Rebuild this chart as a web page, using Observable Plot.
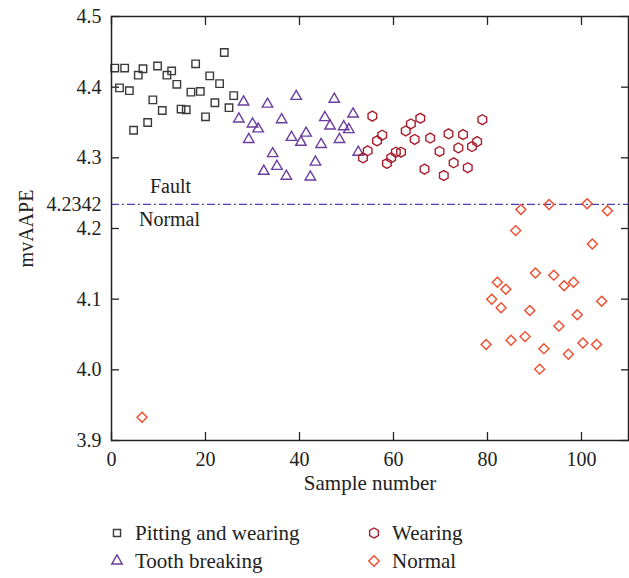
<!DOCTYPE html>
<html><head><meta charset="utf-8">
<script src="https://cdn.jsdelivr.net/npm/d3@7"></script>
<script src="https://cdn.jsdelivr.net/npm/@observablehq/plot@0.6"></script>
<style>
body{margin:0;background:#fff;font-family:"Liberation Serif",serif;}
#wrap{position:relative;width:629px;height:578px;overflow:hidden;}
.item{position:absolute;display:flex;align-items:center;font-size:21px;color:#222;white-space:nowrap;}
.item svg{display:block;}
</style></head><body><div id="wrap"></div>
<script>
// ---- data ----
const xTicks = [0, 20, 40, 60, 80, 100];
const yTicks = [3.9, 4.0, 4.1, 4.2, 4.3, 4.4, 4.5];
const threshold = 4.2342;

const pittingX = [0.7,1.7,2.8,3.8,4.7,5.7,6.7,7.7,8.8,9.8,10.8,11.8,12.8,13.9,14.8,15.9,16.9,17.9,18.9,20.0,20.9,22.0,23.0,24.0,25.0,26.0];
const pittingY = [4.427,4.399,4.427,4.395,4.339,4.417,4.426,4.350,4.382,4.430,4.367,4.417,4.423,4.404,4.369,4.368,4.393,4.433,4.394,4.358,4.416,4.378,4.405,4.449,4.371,4.388];

const breakX = [27.1,28.1,29.2,30.0,31.2,32.4,33.2,34.3,35.2,36.2,37.2,38.3,39.3,40.3,41.4,42.3,43.4,44.6,45.4,46.5,47.4,48.5,49.4,50.5,51.4,52.5];
const breakY = [4.355,4.379,4.326,4.348,4.341,4.281,4.376,4.306,4.288,4.354,4.274,4.329,4.387,4.322,4.335,4.273,4.294,4.319,4.357,4.345,4.383,4.326,4.344,4.340,4.362,4.308];

const wearX = [53.5,54.5,55.5,56.5,57.6,58.6,59.5,60.5,61.6,62.6,63.7,64.5,65.7,66.6,67.8,69.8,70.7,71.7,72.8,73.8,74.8,75.8,76.7,77.8,78.9];
const wearY = [4.300,4.310,4.359,4.324,4.332,4.292,4.300,4.308,4.308,4.338,4.348,4.326,4.356,4.284,4.328,4.309,4.275,4.334,4.293,4.314,4.333,4.286,4.316,4.323,4.354];

const normalX = [6.5,79.7,80.9,82.1,82.9,83.9,85.0,86.0,87.1,88.0,89.0,90.2,91.1,92.0,93.1,94.1,95.2,96.3,97.2,98.3,99.1,100.3,101.2,102.3,103.2,104.3,105.5];
const normalY = [3.933,4.036,4.100,4.124,4.088,4.114,4.042,4.197,4.227,4.047,4.084,4.137,4.001,4.030,4.234,4.134,4.062,4.119,4.022,4.124,4.078,4.038,4.235,4.178,4.036,4.097,4.225];

const seriesNames = ["Pitting and wearing", "Tooth breaking", "Wearing", "Normal"];
const seriesSymbols = ["square", "triangle", "hexagon", "diamond2"];
const seriesColors = ["#3a3a3a", "#6a3d9e", "#a81e2c", "#f04a2a"];
const regionLabels = ["Fault", "Normal"];

// ---- build ----
const toRows = (xs, ys) => xs.map((x, i) => ({x, y: ys[i]}));
const series = [
  toRows(pittingX, pittingY),
  toRows(breakX, breakY),
  toRows(wearX, wearY),
  toRows(normalX, normalY)
];
const radii = [4.2, 3.9, 4.3, 4.5];

const chart = Plot.plot({
  width: 629, height: 505,
  marginLeft: 111, marginRight: 1, marginTop: 16, marginBottom: 65,
  x: {domain: [0, 110]},
  y: {domain: [3.9, 4.5]},
  style: {fontFamily: "Liberation Serif, serif", fontSize: "20px", color: "#222", background: "white", overflow: "visible"},
  marks: [
    Plot.axisX({anchor: "bottom", ticks: xTicks, tickSize: -8, tickPadding: 19, label: null, fontSize: 20, strokeWidth: 1.3}),
    Plot.axisX({anchor: "top", ticks: xTicks, tickSize: -8, tickFormat: () => "", label: null, strokeWidth: 1.3}),
    Plot.axisY({anchor: "left", ticks: yTicks, tickSize: -8, tickPadding: 18, tickFormat: d3.format(".1f"), label: null, fontSize: 20, strokeWidth: 1.3}),
    Plot.axisY({anchor: "right", ticks: yTicks, tickSize: -8, tickFormat: () => "", label: null, strokeWidth: 1.3}),
    Plot.ruleY([threshold], {stroke: "#4a40b4", strokeDasharray: "8,3,2,3", strokeWidth: 1.2}),
    Plot.text([d3.format(".4f")(threshold)], {text: d => d, y: () => threshold, frameAnchor: "left", textAnchor: "end", dx: -10, fontSize: 20}),
    Plot.text([regionLabels[0]], {text: d => d, y: () => threshold, frameAnchor: "left", textAnchor: "middle", dx: 59, dy: -18, fontSize: 20}),
    Plot.text([regionLabels[1]], {text: d => d, y: () => threshold, frameAnchor: "left", textAnchor: "middle", dx: 58, dy: 15, fontSize: 20}),
    Plot.text(["mvAAPE"], {text: d => d, frameAnchor: "left", textAnchor: "middle", rotate: -90, dx: -85, fontSize: 20}),
    Plot.text(["Sample number"], {text: d => d, frameAnchor: "bottom", textAnchor: "middle", dy: 49, fontSize: 21}),
    ...series.map((rows, k) => Plot.dot(rows, {x: "x", y: "y", symbol: seriesSymbols[k], r: radii[k], stroke: seriesColors[k], strokeWidth: 1.4, fill: "none"})),
    Plot.frame({stroke: "#222", strokeWidth: 1.5})
  ]
});
const wrap = document.getElementById("wrap");
wrap.appendChild(chart);

// legend
const legendPos = [[108, 533], [108, 561], [365, 533], [365, 561]];
const legendSym = {square: d3.symbolSquare, triangle: d3.symbolTriangle, diamond2: d3.symbolDiamond2};
const hex = {draw(ctx, size){const rx = Math.sqrt(size/Math.PI), ry = rx*Math.sqrt(4/3), hy = ry/2; ctx.moveTo(0,ry); ctx.lineTo(rx,hy); ctx.lineTo(rx,-hy); ctx.lineTo(0,-ry); ctx.lineTo(-rx,-hy); ctx.lineTo(-rx,hy); ctx.closePath();}};
const legendSizes = [50, 48, 60, 70];
seriesNames.forEach((name, k) => {
  const div = document.createElement("div");
  div.className = "item";
  div.style.left = legendPos[k][0] + "px";
  div.style.top = (legendPos[k][1] - 14) + "px";
  div.style.height = "28px";
  const t = seriesSymbols[k] === "hexagon" ? hex : legendSym[seriesSymbols[k]];
  const path = d3.symbol(t, legendSizes[k])();
  div.innerHTML = `<svg width="18" height="18" viewBox="-9 -9 18 18"><path d="${path}" fill="none" stroke="${seriesColors[k]}" stroke-width="1.4"/></svg><span style="margin-left:9px">${name}</span>`;
  wrap.appendChild(div);
});
</script></body></html>
